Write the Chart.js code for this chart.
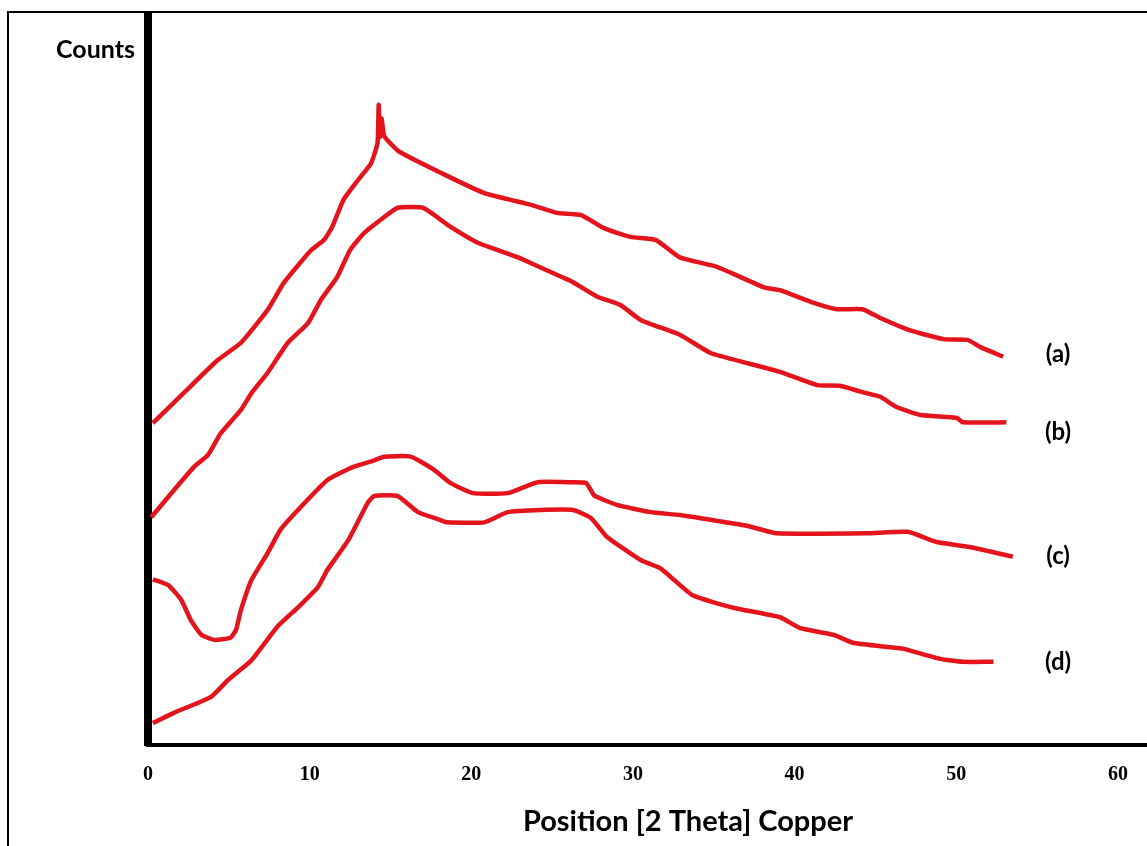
<!DOCTYPE html>
<html>
<head>
<meta charset="utf-8">
<script src="https://cdn.jsdelivr.net/npm/chart.js@4.4.1/dist/chart.umd.min.js"></script>
<style>
  html, body { margin: 0; padding: 0; background: #fff; }
  #wrap { width: 1147px; height: 846px; position: relative; }
</style>
</head>
<body>
<div id="wrap"><canvas id="xrd"></canvas></div>
<script>
// values: [2 theta, counts (arbitrary units)]
const curveA = [
  [0.3, 44.1], [2.2, 48.2], [4.3, 52.7], [5.75, 55.1], [7.4, 59.6], [8.4, 63.3],
  [10.1, 67.8], [10.9, 69.2], [11.4, 71.0], [12.1, 74.7], [13.0, 77.4], [13.8, 79.7],
  [14.2, 82.5], [14.27, 87.7], [14.35, 83.3], [14.45, 85.8], [14.6, 83.5], [15.0, 82.4],
  [15.6, 81.2], [18.1, 78.4], [20.8, 75.6], [23.7, 74.0], [25.3, 72.9], [26.8, 72.6],
  [28.2, 70.8], [29.85, 69.6], [31.4, 69.2], [32.9, 66.8], [35.2, 65.5], [38.1, 62.7],
  [39.1, 62.3], [41.0, 60.7], [42.6, 59.7], [44.2, 59.7], [45.3, 58.5], [47.15, 56.8],
  [49.2, 55.6], [50.7, 55.5], [51.5, 54.5], [52.9, 53.2]
];
const curveB = [
  [0.2, 31.2], [1.6, 34.9], [2.85, 38.1], [3.7, 39.7], [4.5, 42.7], [5.75, 45.9],
  [6.4, 48.2], [7.4, 51.0], [8.65, 55.1], [9.9, 57.8], [10.7, 61.0], [11.7, 64.1],
  [12.5, 67.8], [13.35, 70.1], [14.6, 72.3], [15.45, 73.6], [17.0, 73.6], [18.7, 71.0],
  [20.4, 68.8], [22.9, 66.8], [23.7, 66.0], [25.7, 64.0], [26.3, 63.4], [27.8, 61.4],
  [29.2, 60.3], [30.5, 58.2], [32.9, 56.2], [34.8, 53.7], [37.1, 52.3], [39.1, 51.1],
  [41.4, 49.3], [42.8, 49.2], [44.1, 48.4], [45.3, 47.7], [46.3, 46.3], [47.8, 45.2],
  [50.05, 44.8], [50.4, 44.2], [53.1, 44.2]
];
const curveC = [
  [0.3, 22.7], [1.25, 21.9], [2.05, 19.9], [2.65, 17.1], [3.3, 15.1], [4.1, 14.4],
  [5.1, 14.7], [5.45, 15.8], [5.75, 18.5], [6.4, 22.6], [7.4, 26.3], [8.2, 29.5],
  [9.45, 32.6], [11.1, 36.3], [12.7, 38.1], [14.0, 39.0], [14.6, 39.5], [16.25, 39.5],
  [17.7, 37.7], [18.7, 35.9], [20.1, 34.5], [22.25, 34.5], [24.1, 36.0], [25.95, 36.0],
  [27.1, 35.9], [27.6, 34.2], [29.0, 32.9], [31.1, 31.9], [32.9, 31.5], [35.2, 30.7],
  [37.1, 30.0], [38.9, 29.0], [44.5, 29.0], [47.0, 29.2], [48.8, 27.8], [50.9, 27.1],
  [53.5, 25.8]
];
const curveD = [
  [0.3, 3.0], [1.6, 4.4], [3.9, 6.6], [4.95, 8.9], [6.4, 11.6], [8.0, 16.2],
  [9.3, 18.9], [10.5, 21.6], [11.1, 24.0], [12.4, 28.1], [13.6, 33.2], [14.0, 34.1],
  [15.45, 34.1], [16.7, 31.9], [18.1, 30.8], [18.5, 30.5], [20.8, 30.5], [22.25, 31.9],
  [24.3, 32.2], [26.3, 32.2], [27.4, 31.1], [28.4, 28.5], [30.5, 25.3], [31.7, 24.2],
  [33.7, 20.5], [36.2, 18.8], [39.1, 17.5], [40.35, 16.0], [42.4, 15.1], [43.6, 14.0],
  [45.9, 13.4], [46.7, 13.2], [49.0, 11.8], [50.4, 11.4], [52.3, 11.4]
];
const seriesNames = ['(a)', '(b)', '(c)', '(d)'];
const nameAnchorsY = [53.5, 42.8, 25.8, 11.4];
const xTicks = [0, 10, 20, 30, 40, 50, 60];
const xTitle = 'Position [2 Theta] Copper';
const yTitle = 'Counts';

const RED = '#e3141b';
const curves = [curveA, curveB, curveC, curveD];

const decorations = {
  id: 'decorations',
  beforeDraw(chart) {
    const ctx = chart.ctx;
    ctx.save();
    ctx.strokeStyle = '#000';
    ctx.lineWidth = 2;
    ctx.beginPath();
    ctx.moveTo(8, 846);
    ctx.lineTo(8, 12);
    ctx.lineTo(1147, 12);
    ctx.stroke();
    ctx.restore();
  },
  afterDraw(chart) {
    const ctx = chart.ctx;
    const xs = chart.scales.x, ys = chart.scales.y;
    ctx.save();
    ctx.fillStyle = '#000';
    ctx.textBaseline = 'middle';
    ctx.font = 'bold 25px Lato';
    ctx.textAlign = 'right';
    ctx.fillText(yTitle, 135, 50);
    ctx.textAlign = 'center';
    ctx.font = 'bold 29px Lato';
    ctx.fillText(xTitle, 688, 822);
    ctx.font = 'bold 24px Lato';
    seriesNames.forEach((n, i) => {
      ctx.fillText(n, xs.getPixelForValue(56.3), ys.getPixelForValue(nameAnchorsY[i]));
    });
    ctx.restore();
  }
};

new Chart(document.getElementById('xrd'), {
  type: 'line',
  data: {
    datasets: curves.map((c, i) => ({
      label: seriesNames[i],
      data: c.map(p => ({ x: p[0], y: p[1] })),
      borderColor: RED,
      borderWidth: 4.5,
      pointRadius: 0,
      tension: 0.15,
      fill: false
    }))
  },
  options: {
    responsive: true,
    maintainAspectRatio: false,
    animation: false,
    layout: { padding: { top: 15, right: 0, left: 0, bottom: 0 } },
    plugins: { legend: { display: false }, tooltip: { enabled: false } },
    scales: {
      x: {
        type: 'linear',
        min: 0,
        max: 61.8,
        afterBuildTicks: (s) => { s.ticks = xTicks.map(v => ({ value: v })); },
        afterFit: (s) => { s.height = 101; },
        grid: { display: false, drawTicks: false },
        border: { color: '#000', width: 4 },
        ticks: {
          padding: 18,
          color: '#000',
          font: { family: 'Liberation Serif', weight: 'bold', size: 20 }
        }
      },
      y: {
        min: 0,
        max: 100,
        afterFit: (s) => { s.width = 148; },
        grid: { display: false, drawTicks: false },
        border: { color: '#000', width: 8 },
        ticks: { display: false }
      }
    }
  },
  plugins: [decorations]
});
</script>
</body>
</html>
